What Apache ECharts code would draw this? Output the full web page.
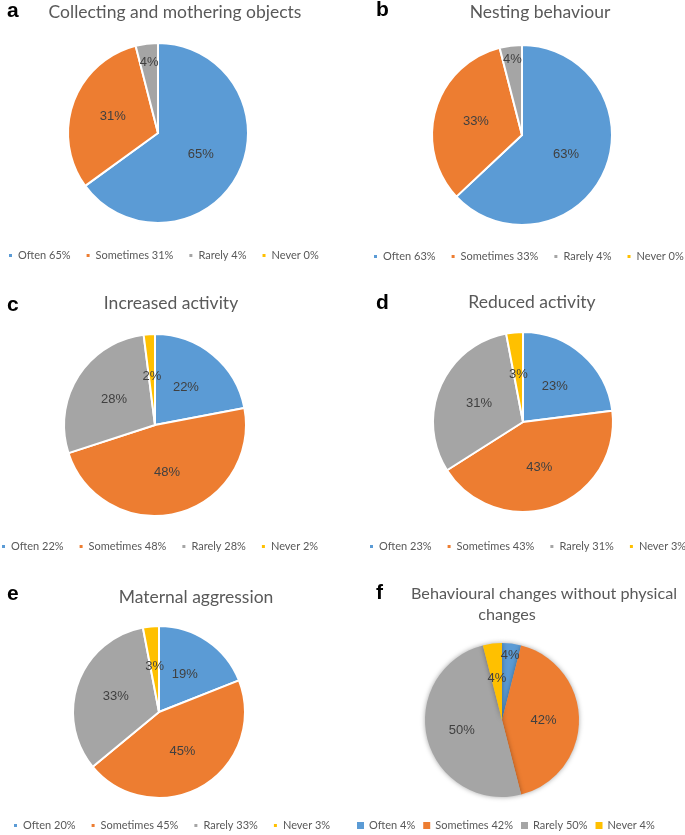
<!DOCTYPE html>
<html><head><meta charset="utf-8">
<script src="https://cdn.jsdelivr.net/npm/echarts@6/dist/echarts.min.js"></script>
<style>html,body{margin:0;padding:0;background:#fff}#c{width:685px;height:835px}</style>
</head><body><div id="c"></div>
<script>
// ---- data ----
const categories = ['Often', 'Sometimes', 'Rarely', 'Never'];
const valuesA = [65, 31, 4, 0];
const legendPctA = [65, 31, 4, 0];
const valuesB = [63, 33, 4, 0];
const legendPctB = [63, 33, 4, 0];
const valuesC = [22, 48, 28, 2];
const legendPctC = [22, 48, 28, 2];
const valuesD = [23, 43, 31, 3];
const legendPctD = [23, 43, 31, 3];
const valuesE = [19, 45, 33, 3];
const legendPctE = [20, 45, 33, 3];
const valuesF = [4, 42, 50, 4];
const legendPctF = [4, 42, 50, 4];
const panelLetters = ['a', 'b', 'c', 'd', 'e', 'f'];
const panelTitles = ['Collecting and mothering objects', 'Nesting behaviour', 'Increased activity',
  'Reduced activity', 'Maternal aggression', 'Behavioural changes without physical', 'changes'];

// ---- style / layout ----
const colors = ['#5B9BD5', '#ED7D31', '#A5A5A5', '#FFC000'];
const panels = [
  {values: valuesA, pct: legendPctA, center: [158, 133], r: 90, push: {2: 0.79}, lg: {left: 7, top: 250}, gap: 14, iw: 5},
  {values: valuesB, pct: legendPctB, center: [522, 135], r: 90, push: {2: 0.85}, lg: {left: 372, top: 251}, gap: 14, iw: 5},
  {values: valuesC, pct: legendPctC, center: [155, 425], r: 91, push: {}, lg: {left: 0, top: 541}, gap: 14, iw: 5},
  {values: valuesD, pct: legendPctD, center: [523, 422], r: 90, push: {}, lg: {left: 368, top: 541}, gap: 14, iw: 5},
  {values: valuesE, pct: legendPctE, center: [159, 712], r: 86, push: {}, lg: {left: 12, top: 820}, gap: 14, iw: 5},
  {values: valuesF, pct: legendPctF, center: [502, 720], r: 77, push: {0: 0.85}, lg: {left: 357, top: 820}, gap: 8, iw: 7, shadow: true}
];
const letterPos = [[7, 11], [376, 10], [7, 305], [376, 303], [7, 594], [376, 593]];
const titlePos = [[175, 12], [540, 12], [171, 303], [532, 302], [196, 597], [544, 594], [507, 615]];
const titleSizes = [17.5, 17.5, 17.5, 17.5, 17.5, 16.2, 16.2];

function makeLayout(p) {
  return function (params) {
    const f = p.push[params.dataIndex];
    if (!f) return {};
    const lr = params.labelRect;
    const lx = lr.x + lr.width / 2, ly = lr.y + lr.height / 2;
    const vx = lx - p.center[0], vy = ly - p.center[1];
    const d = Math.hypot(vx, vy) || 1;
    const k = f * p.r / d;
    return {dx: vx * k - vx, dy: vy * k - vy};
  };
}

const series = [], legends = [], graphics = [];
panels.forEach((p, i) => {
  const names = categories.map((c, j) => c + ' ' + p.pct[j] + '%');
  series.push({
    type: 'pie',
    center: p.center,
    radius: [0, p.r],
    startAngle: 90,
    clockwise: true,
    animation: false,
    silent: true,
    avoidLabelOverlap: false,
    data: p.values.map((v, j) => ({name: names[j], value: v, itemStyle: {color: colors[j]}})),
    itemStyle: p.shadow
      ? {borderWidth: 0, shadowBlur: 5, shadowColor: 'rgba(0,0,0,0.35)'}
      : {borderColor: '#fff', borderWidth: 2},
    label: {
      show: true, position: 'inside',
      formatter: q => q.value > 0 ? q.value + '%' : '',
      color: '#404040', fontSize: 13, fontFamily: 'Liberation Sans'
    },
    labelLine: {show: false},
    labelLayout: makeLayout(p)
  });
  legends.push({
    data: names,
    left: p.lg.left, top: p.lg.top,
    width: 400,
    orient: 'horizontal',
    padding: 0,
    itemGap: p.gap,
    itemWidth: p.iw, itemHeight: p.iw,
    icon: 'rect',
    selectedMode: false,
    textStyle: {color: '#595959', fontSize: 11, fontFamily: 'Lato'}
  });
});

panelLetters.forEach((l, i) => {
  graphics.push({
    type: 'text', x: letterPos[i][0], y: letterPos[i][1],
    style: {text: l, fill: '#000', font: 'bold 21px "Liberation Sans"', textAlign: 'left', textVerticalAlign: 'middle'}
  });
});
panelTitles.forEach((t, i) => {
  graphics.push({
    type: 'text', x: titlePos[i][0], y: titlePos[i][1],
    style: {text: t, fill: '#595959', font: titleSizes[i] + 'px Lato', textAlign: 'center', textVerticalAlign: 'middle'}
  });
});

const chart = echarts.init(document.getElementById('c'), null, {renderer: 'canvas'});
chart.setOption({
  backgroundColor: '#fff',
  animation: false,
  legend: legends,
  series: series,
  graphic: {elements: graphics}
});
</script>
</body></html>
